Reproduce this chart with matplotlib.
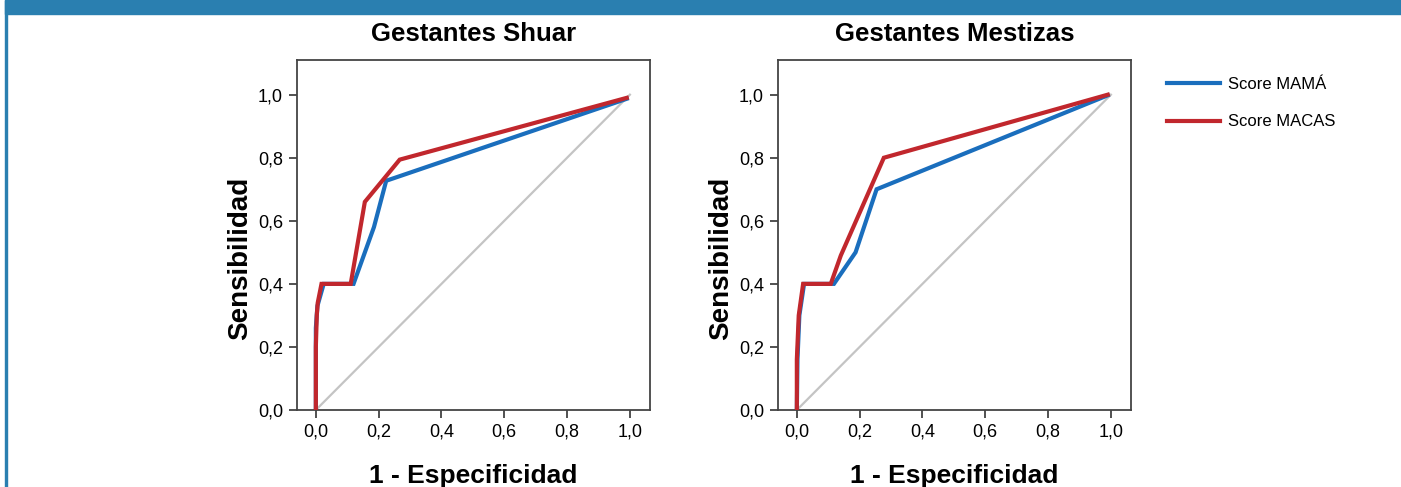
import matplotlib.pyplot as plt
from matplotlib.patches import Rectangle
from matplotlib.lines import Line2D

# ROC curves (1 - especificidad, sensibilidad)
shuar_mama_x = [0.0, 0.0, 0.005, 0.025, 0.12, 0.185, 0.224, 0.99]
shuar_mama_y = [0.0, 0.26, 0.33, 0.40, 0.40, 0.58, 0.727, 0.987]
shuar_macas_x = [0.0, 0.0, 0.003, 0.006, 0.018, 0.111, 0.156, 0.267, 0.99]
shuar_macas_y = [0.0, 0.20, 0.30, 0.34, 0.40, 0.40, 0.66, 0.794, 0.99]

mest_mama_x = [0.0, 0.002, 0.008, 0.023, 0.118, 0.187, 0.254, 0.99]
mest_mama_y = [0.0, 0.16, 0.30, 0.40, 0.40, 0.50, 0.70, 0.998]
mest_macas_x = [0.0, 0.0, 0.006, 0.02, 0.108, 0.14, 0.277, 0.99]
mest_macas_y = [0.0, 0.16, 0.30, 0.40, 0.40, 0.49, 0.80, 1.0]

ref_line = [0.0, 1.0]
ticks = [0.0, 0.2, 0.4, 0.6, 0.8, 1.0]
tick_labels = ['0,0', '0,2', '0,4', '0,6', '0,8', '1,0']
titles = ['Gestantes Shuar', 'Gestantes Mestizas']
series_names = ['Score MAMÁ', 'Score MACAS']

blue = '#1a6ebd'
red = '#c1272d'
grey = '#c4c4c4'
band = '#2a7fb0'

plt.rcParams['font.family'] = ['Liberation Sans', 'DejaVu Sans']

W, H = 1401, 487
fig = plt.figure(figsize=(W / 100, H / 100), dpi=100)

# header band and left border
fig.patches.append(Rectangle((5 / W, 1 - 14 / H), 1, 14 / H, transform=fig.transFigure,
                             color=band, zorder=0))
fig.patches.append(Rectangle((5 / W, 0), 2 / W, 1, transform=fig.transFigure,
                             color=band, zorder=0))

data = [
    (shuar_mama_x, shuar_mama_y, shuar_macas_x, shuar_macas_y),
    (mest_mama_x, mest_mama_y, mest_macas_x, mest_macas_y),
]
lefts = [297, 778]

for left, title, (bx, by, rx, ry) in zip(lefts, titles, data):
    ax = fig.add_axes([left / W, 77 / H, 353 / W, 350 / H])
    ax.plot(ref_line, ref_line, color=grey, lw=1.6, zorder=1)
    ax.plot(bx, by, color=blue, lw=3, zorder=2, solid_joinstyle='miter')
    ax.plot(rx, ry, color=red, lw=3, zorder=3, solid_joinstyle='miter')
    ax.set_xlim(-0.06, 1.064)
    ax.set_ylim(0, 1.11)
    ax.set_xticks(ticks)
    ax.set_xticklabels(tick_labels)
    ax.set_yticks(ticks)
    ax.set_yticklabels(tick_labels)
    ax.tick_params(direction='out', length=6, width=1.2, labelsize=13, colors='#333333',
                   labelcolor='black', pad=4)
    for s in ax.spines.values():
        s.set_color('#444444')
        s.set_linewidth(1.3)
    ax.set_title(title, fontsize=18.5, fontweight='bold', pad=14)
    ax.set_xlabel('1 - Especificidad', fontsize=19, fontweight='bold', labelpad=17)
    ax.set_ylabel('Sensibilidad', fontsize=20, fontweight='bold')
    ax.yaxis.set_label_coords(-0.125, 0.434)

handles = [Line2D([0], [0], color=blue, lw=3), Line2D([0], [0], color=red, lw=3)]
fig.legend(handles, series_names, loc='upper left', bbox_to_anchor=(1152 / W, 1 - 62 / H),
           frameon=False, fontsize=12, handlelength=3.2, labelspacing=1.35, handletextpad=0.45)

fig.savefig('out.png', dpi=100)
